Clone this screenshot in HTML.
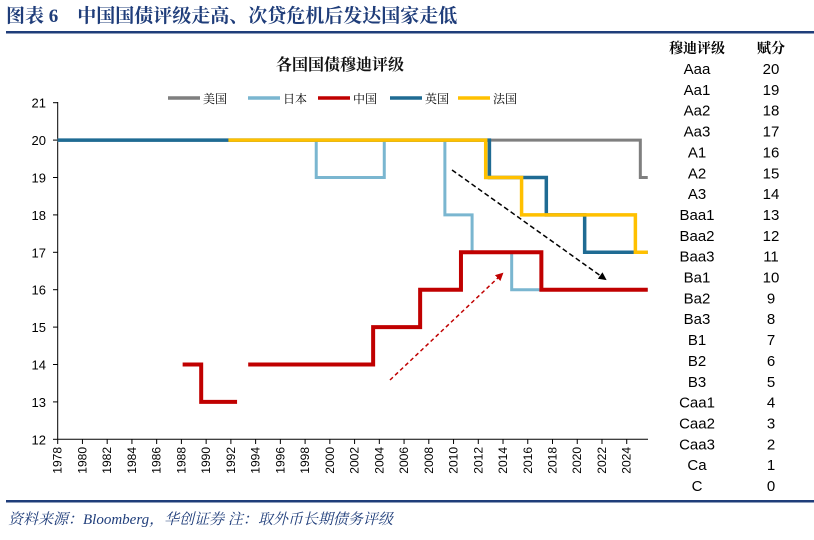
<!DOCTYPE html>
<html><head><meta charset="utf-8"><style>
body{margin:0;background:#fff;width:814px;height:535px;overflow:hidden;}
svg text{font-family:"Liberation Sans","Noto Sans CJK SC",sans-serif;}
.serif{font-family:"Liberation Serif","Noto Serif CJK SC",serif !important;}
</style></head><body>
<svg id="c" width="814" height="535" xmlns="http://www.w3.org/2000/svg">
<text x="6" y="22" class="serif" font-size="19" font-weight="bold" fill="#1f3d7a">图表 6　中国国债评级走高、次贷危机后发达国家走低</text>
<rect x="6" y="31" width="808" height="2.5" fill="#1f3d7a"/>
<rect x="6" y="500" width="808" height="2.5" fill="#1f3d7a"/>
<text x="8" y="524" class="serif" font-size="15" font-style="italic" fill="#1f3d7a">资料来源：Bloomberg，华创证券 注：取外币长期债务评级</text>
<text x="340" y="70" class="serif" font-size="16" font-weight="bold" fill="#111" text-anchor="middle">各国国债穆迪评级</text>
<g id="axes"></g><g id="series"></g><g id="legend"></g><g id="table"></g>
<defs>
<marker id="ab" markerWidth="8" markerHeight="8" refX="6" refY="4" orient="auto" markerUnits="userSpaceOnUse"><path d="M0,0L8,4L0,8z" fill="#000"/></marker>
<marker id="ar" markerWidth="8" markerHeight="8" refX="6" refY="4" orient="auto" markerUnits="userSpaceOnUse"><path d="M0,0L8,4L0,8z" fill="#c00000"/></marker>
</defs>
<line x1="452" y1="170" x2="605" y2="279" stroke="#000" stroke-width="1.5" stroke-dasharray="5,3" marker-end="url(#ab)"/>
<line x1="390" y1="380" x2="502" y2="274" stroke="#c00000" stroke-width="1.5" stroke-dasharray="4,3" marker-end="url(#ar)"/>
</svg>
<script>
const yTicks=[12,13,14,15,16,17,18,19,20,21];
const xTicks=[];for(let y=1978;y<=2024;y+=2)xTicks.push(y);
const seriesNames=["美国","日本","中国","英国","法国"];
const usYears=[1978,2025.1,2025.7];const usVals=[20,19,19];
const jpYears=[1978,1998.9,2004.4,2009.3,2011.5,2014.7,2025.7];const jpVals=[20,19,20,18,17,16,16];
const ukYears=[1978,2012.9,2017.5,2020.6,2025.7];const ukVals=[20,19,18,17,17];
const frYears=[1991.8,2012.6,2015.5,2024.7,2025.7];const frVals=[20,19,18,17,17];
const cnYears=[1988.1,1989.6,1992.5,1993.4,2003.5,2007.3,2010.6,2017.1,2025.7];const cnVals=[14,13,null,14,15,16,17,16,16];
const ratings=["Aaa","Aa1","Aa2","Aa3","A1","A2","A3","Baa1","Baa2","Baa3","Ba1","Ba2","Ba3","B1","B2","B3","Caa1","Caa2","Caa3","Ca","C"];
const scores=[20,19,18,17,16,15,14,13,12,11,10,9,8,7,6,5,4,3,2,1,0];
const colors=["#7f7f7f","#7ab6d0","#c00000","#1f6b93","#ffc000"];
const NS="http://www.w3.org/2000/svg";
const X=y=>57.7+(y-1978)*12.37, Y=v=>439.3-(v-12)*37.4;
function mk(t,a,p){const e=document.createElementNS(NS,t);for(const k in a)e.setAttribute(k,a[k]);p.appendChild(e);return e;}
const ax=document.getElementById('axes');
const yl=mk('line',{x1:57.7,y1:102,x2:57.7,y2:439.3,stroke:'#000','stroke-width':1},ax);


const xl=mk('line',{x1:57.7,y1:439.3,x2:648,y2:439.3,stroke:'#000','stroke-width':1},ax);


yTicks.forEach(v=>{mk('line',{x1:53,x2:57.7,y1:Y(v),y2:Y(v),stroke:'#000'},ax);
const t=mk('text',{x:46,y:Y(v)+5,'text-anchor':'end','font-size':13,fill:'#000'},ax);t.textContent=v;

});
xTicks.forEach(v=>{mk('line',{x1:X(v),x2:X(v),y1:439.3,y2:444,stroke:'#000'},ax);
const t=mk('text',{transform:`translate(${X(v)+4},447) rotate(-90)`,'text-anchor':'end','font-size':12,fill:'#000'},ax);t.textContent=v;

});
function stepPath(ys,vs){let d='',pen=false;
for(let i=0;i<ys.length-1;i++){
 if(vs[i]==null){pen=false;continue;}
 if(!pen){d+=`M${X(ys[i])},${Y(vs[i])}`;pen=true;}
 d+=`L${X(ys[i+1])},${Y(vs[i])}`;
 if(vs[i+1]!=null&&i+1<ys.length-1)d+=`L${X(ys[i+1])},${Y(vs[i+1])}`;
}return d;}
const sg=document.getElementById('series');
const data=[[usYears,usVals,'us-line',3],[jpYears,jpVals,'japan-line',3],[ukYears,ukVals,'uk-line',3.5],[frYears,frVals,'france-line',3.5],[cnYears,cnVals,'china-line',4]];
const cidx={'us-line':0,'japan-line':1,'china-line':2,'uk-line':3,'france-line':4};
data.forEach(s=>{const p=mk('path',{d:stepPath(s[0],s[1]),fill:'none',stroke:colors[cidx[s[2]]],'stroke-width':s[3],'stroke-linejoin':'miter'},sg);

});
const lg=document.getElementById('legend');const lx=[168,248,318,390,458];
seriesNames.forEach((n,i)=>{const g=mk('g',{},lg);


mk('line',{x1:lx[i],x2:lx[i]+32,y1:98,y2:98,stroke:colors[i],'stroke-width':3.5},g);
const t=mk('text',{x:lx[i]+35,y:103,'font-size':12,fill:'#000',class:'serif'},g);t.textContent=n;});
const tb=document.getElementById('table');
[['穆迪评级',697],['赋分',771]].forEach(h=>{const t=mk('text',{x:h[1],y:53,'text-anchor':'middle','font-size':14,'font-weight':'bold',class:'serif',fill:'#000'},tb);t.textContent=h[0];

});
ratings.forEach((r,i)=>{const y=74+i*20.85;
const a=mk('text',{x:697,y:y,'text-anchor':'middle','font-size':15,fill:'#000'},tb);a.textContent=r;


const b=mk('text',{x:771,y:y,'text-anchor':'middle','font-size':15,fill:'#000'},tb);b.textContent=scores[i];

});
</script>
</body></html>
